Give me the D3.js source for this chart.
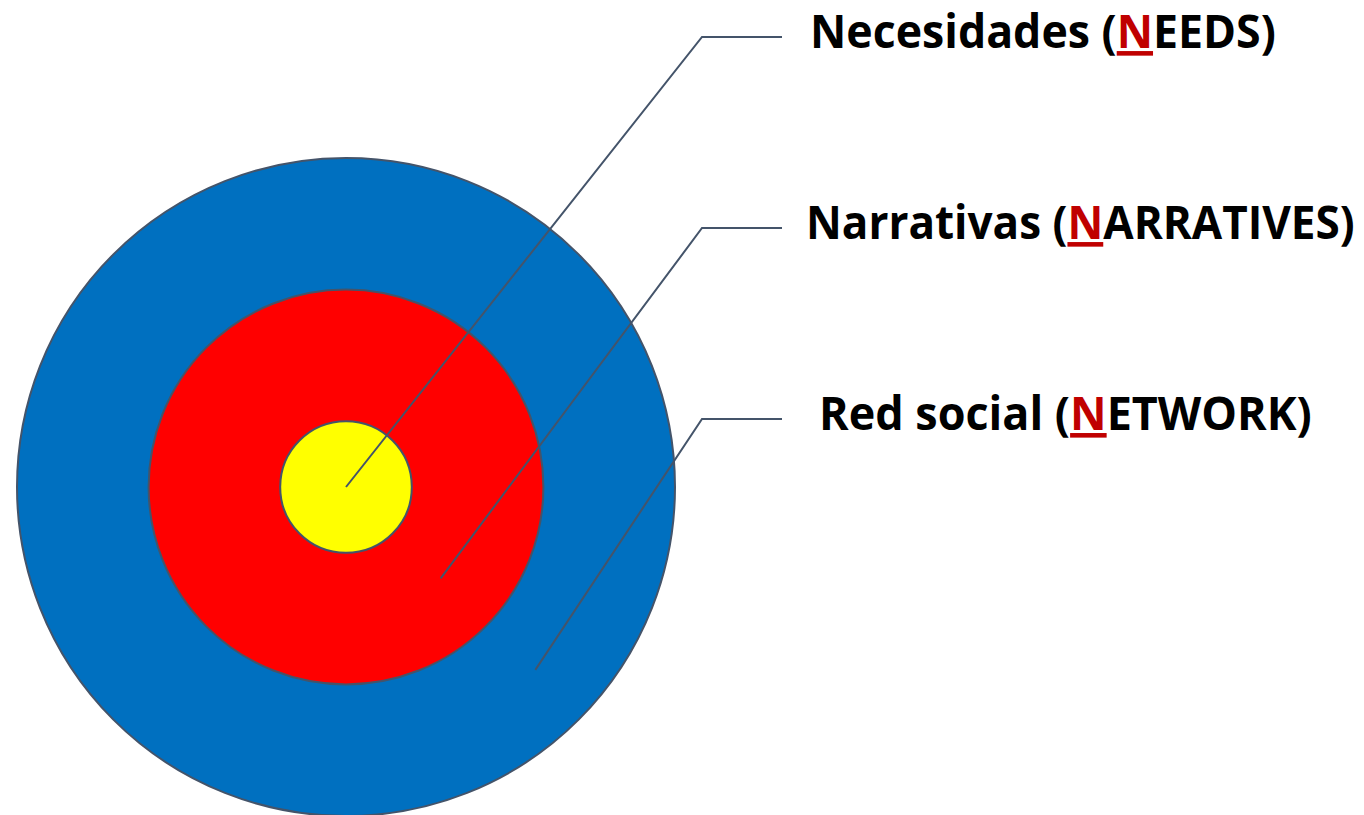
<!DOCTYPE html>
<html>
<head>
<meta charset="utf-8">
<script src="https://cdn.jsdelivr.net/npm/d3@7"></script>
<style>
  html, body { margin: 0; padding: 0; background: #fff; }
  svg { display: block; }
</style>
</head>
<body>
<svg id="chart" width="1364" height="815"></svg>
<script>
// ---- data ----
const ringLevels = [3, 2, 1];                 // outer -> inner
const ringColors = ["#0070C0", "#FF0000", "#FFFF00"];
const labelPrefix = ["Necesidades (", "Narrativas (", "Red social ("];
const labelKey = ["N", "N", "N"];
const labelRest = ["EEDS)", "ARRATIVES)", "ETWORK)"];
const labelLevels = [1, 2, 3];                // ring each label points to
const labelWidths = [466, 549, 493];

// ---- layout ----
const svg = d3.select("#chart");
const cx = 346, cy = 487;
const rScale = d3.scaleLinear().domain([0.5, 3]).range([0, 329]);
const lineColor = "#44546A";

svg.append("rect").attr("width", 1364).attr("height", 815).attr("fill", "#fff");

svg.selectAll("circle.ring")
  .data(ringLevels)
  .join("circle")
  .attr("class", "ring")
  .attr("cx", cx).attr("cy", cy)
  .attr("r", d => rScale(d))
  .attr("fill", (d, i) => ringColors[i])
  .attr("stroke", lineColor)
  .attr("stroke-width", 2);

// label rows
const yRow = d3.scalePoint().domain(labelLevels).range([37, 419]);
const elbowX = 702, endX = 782;
const ang = Math.PI / 180 * 44;

const anchor = lvl => {
  const r = lvl === 1 ? 0 : (rScale(lvl) + rScale(lvl - 1)) / 2;
  return [cx + r * Math.cos(ang), cy + r * Math.sin(ang)];
};

svg.selectAll("polyline.leader")
  .data(labelLevels)
  .join("polyline")
  .attr("class", "leader")
  .attr("fill", "none")
  .attr("stroke", lineColor)
  .attr("stroke-width", 2)
  .attr("points", d => {
    const a = anchor(d);
    return [a, [elbowX, yRow(d)], [endX, yRow(d)]].map(p => p.join(",")).join(" ");
  });

const labelX = [810, 806, 819];
const texts = svg.selectAll("text.lbl")
  .data(labelLevels)
  .join("text")
  .attr("class", "lbl")
  .attr("x", (d, i) => labelX[i])
  .attr("y", d => yRow(d) + 11)
  .attr("font-family", "'Open Sans', 'Liberation Sans', sans-serif")
  .attr("font-weight", 700)
  .attr("font-size", 46)
  .attr("fill", "#000");

texts.append("tspan").text((d, i) => labelPrefix[i]);
texts.append("tspan")
  .attr("fill", "#C00000")
  .style("text-decoration", "underline")
  .text((d, i) => labelKey[i]);
texts.append("tspan").text((d, i) => labelRest[i]);

// condense horizontally to match the narrow face of the original
texts.each(function(d, i) {
  const w = this.getComputedTextLength();
  const sx = labelWidths[i] / w;
  const x = labelX[i];
  d3.select(this).attr("transform", `translate(${x},0) scale(${sx},1) translate(${-x},0)`);
});
</script>
</body>
</html>
